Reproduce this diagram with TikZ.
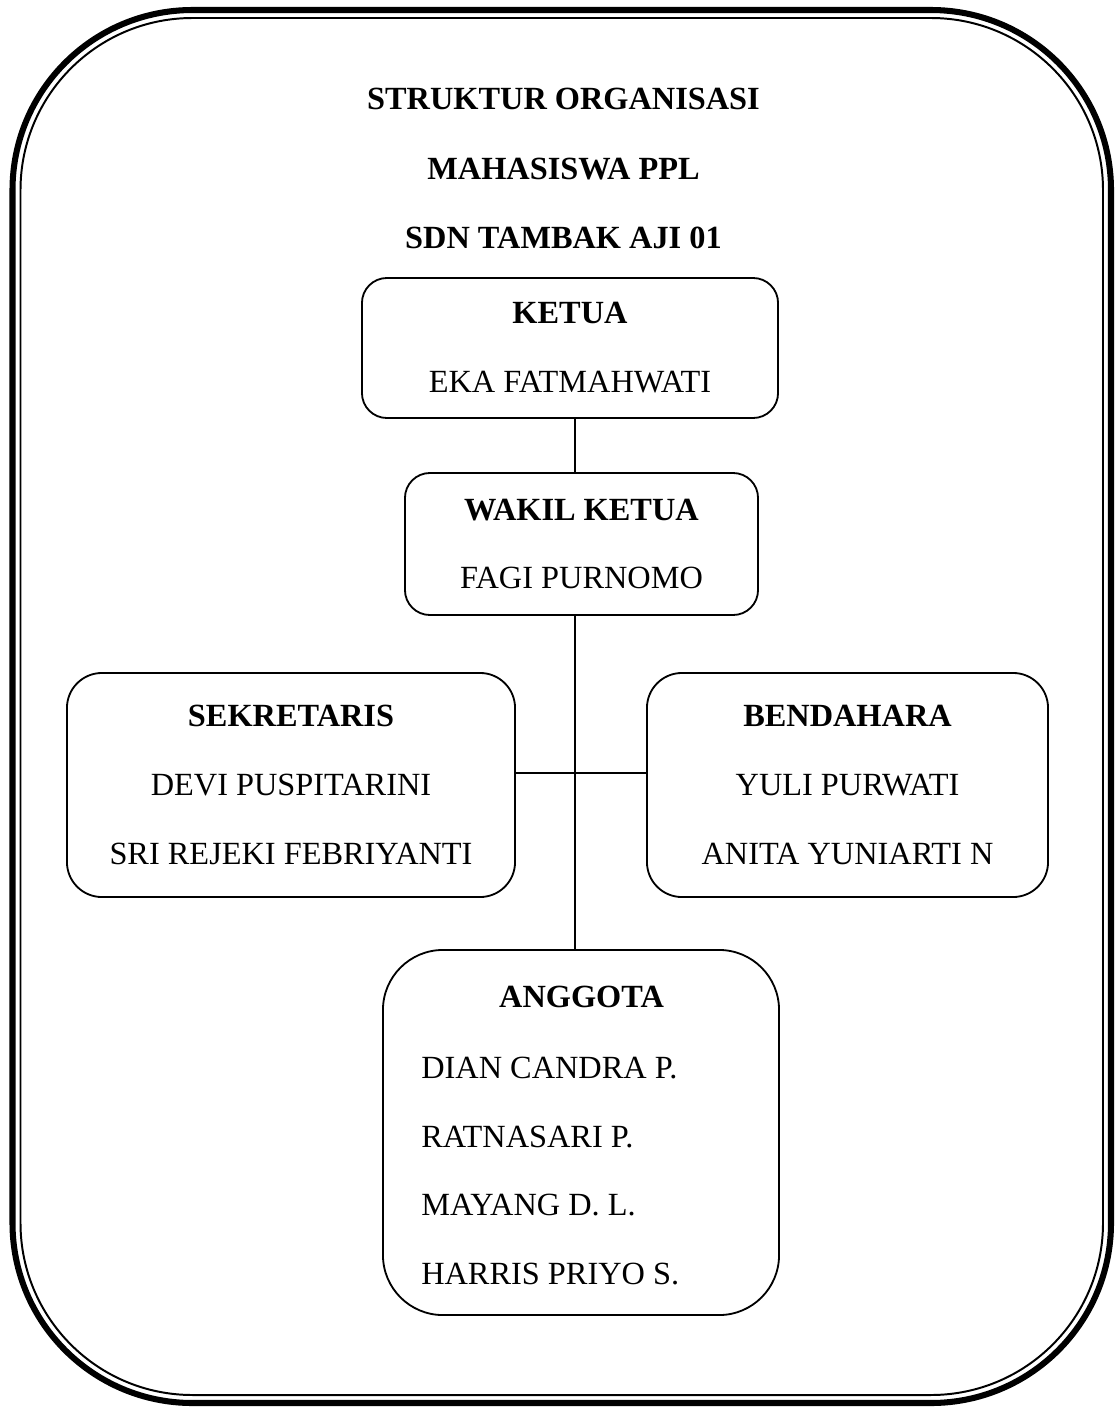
\documentclass[tikz,border=0pt]{standalone}
\usepackage{fontspec}
\setmainfont{Liberation Serif}
\usepackage{tikz}
\tikzset{
    tnode/.style = {align=center, inner sep=0pt, text centered, font=\fontsize{23pt}{49pt}\selectfont},
    title_text/.style = {tnode, font=\fontsize{23pt}{49pt}\selectfont\bfseries},
    org_box/.style = {tnode, rectangle, draw=black, line width=1.3pt, rounded corners=#1},
    link/.style = {draw=black, line width=1.3pt}
}

\begin{document}
\begin{tikzpicture}[x=0.025cm, y=-0.025cm]
    \useasboundingbox (0,0) rectangle (1118,1407);
    % outer frame, thick and thin line
    \draw[line width=4.3pt, rounded corners=4.5cm] (12.5,10) rectangle (1111,1403);
    \draw[line width=1.4pt, rounded corners=4.3cm] (20.5,18) rectangle (1103,1395);

    \node [title_text] (title1) at (563.5,99) {STRUKTUR ORGANISASI};
    \node [title_text] (title2) at (563.5,169) {MAHASISWA PPL};
    \node [title_text] (title3) at (563.5,238) {SDN TAMBAK AJI 01};

    \node [org_box=0.625cm, minimum width=10.4cm, minimum height=3.5cm] (ketua) at (570,348)
        {\textbf{KETUA}\\EKA FATMAHWATI};
    \node [org_box=0.625cm, minimum width=8.825cm, minimum height=3.55cm] (wakil) at (581.5,544)
        {\textbf{WAKIL KETUA}\\FAGI PURNOMO};
    \node [org_box=0.875cm, minimum width=11.2cm, minimum height=5.6cm] (sekretaris) at (291,785)
        {\textbf{SEKRETARIS}\\DEVI PUSPITARINI\\SRI REJEKI FEBRIYANTI};
    \node [org_box=0.875cm, minimum width=10.025cm, minimum height=5.6cm] (bendahara) at (847.5,785)
        {\textbf{BENDAHARA}\\YULI PURWATI\\ANITA YUNIARTI N};
    \node [org_box=1.5cm, minimum width=9.9cm, minimum height=9.125cm] (anggota) at (581,1132.5) {};
    \node [title_text] (anggotahead) at (581.5,997) {ANGGOTA};
    \node [tnode, align=left, anchor=west] (anggotalist) at (421,1171)
        {DIAN CANDRA P.\\RATNASARI P.\\MAYANG D. L.\\HARRIS PRIYO S.};

    % connectors
    \coordinate (spine) at (575,773);
    \draw [link] (ketua.south -| spine) -- (wakil.north -| spine);
    \draw [link] (wakil.south -| spine) -- (anggota.north -| spine);
    \draw [link] (sekretaris.east |- spine) -- (bendahara.west |- spine);
\end{tikzpicture}
\end{document}
